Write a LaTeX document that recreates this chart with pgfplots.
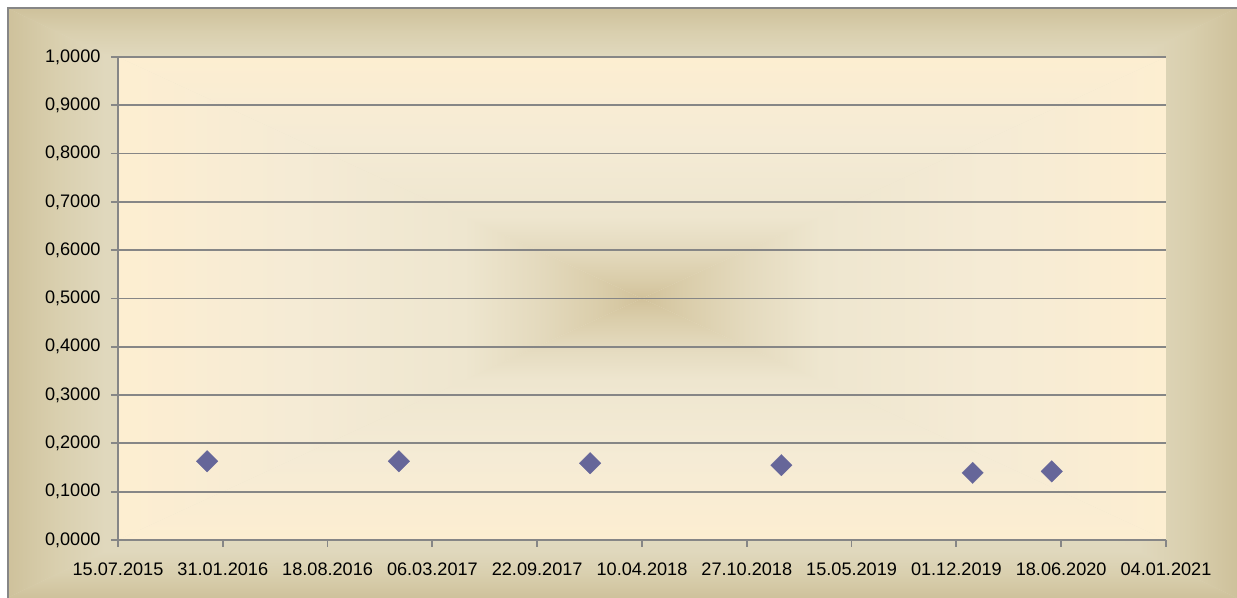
\documentclass[border=0pt]{standalone}
\usepackage{pgfplots}
\pgfplotsset{compat=1.18}
\usepackage{fontspec}
\setmainfont{Liberation Sans}
\definecolor{bgout}{RGB}{206,193,155}
\definecolor{bgmid}{RGB}{217,207,174}
\definecolor{bgin}{RGB}{224,216,189}
\definecolor{bglight}{RGB}{227,220,195}
\definecolor{cream}{RGB}{253,238,209}
\definecolor{creamb}{RGB}{245,235,213}
\definecolor{c12}{RGB}{238,230,207}
\definecolor{c7}{RGB}{228,218,190}
\definecolor{c3}{RGB}{218,205,170}
\definecolor{darkc}{RGB}{210,194,155}
\definecolor{gridc}{RGB}{134,134,134}
\definecolor{markc}{RGB}{102,102,153}
% outer background: edge at low / high end
\pgfdeclarehorizontalshading{oHlo}{100bp}{color(0bp)=(bgout); color(25bp)=(bgout); color(29bp)=(bgmid); color(33bp)=(bgin); color(42bp)=(bglight); color(100bp)=(bglight)}
\pgfdeclarehorizontalshading{oHhi}{100bp}{color(0bp)=(bglight); color(58bp)=(bglight); color(67bp)=(bgin); color(71bp)=(bgmid); color(75bp)=(bgout); color(100bp)=(bgout)}
\pgfdeclareverticalshading{oVlo}{100bp}{color(0bp)=(bgout); color(25bp)=(bgout); color(29bp)=(bgmid); color(33bp)=(bgin); color(42bp)=(bglight); color(100bp)=(bglight)}
\pgfdeclareverticalshading{oVhi}{100bp}{color(0bp)=(bglight); color(58bp)=(bglight); color(67bp)=(bgin); color(71bp)=(bgmid); color(75bp)=(bgout); color(100bp)=(bgout)}
% plot area
\pgfdeclarehorizontalshading{pHlo}{100bp}{color(0bp)=(cream); color(25bp)=(cream); color(42bp)=(creamb); color(58bp)=(c12); color(65bp)=(c7); color(71bp)=(c3); color(75bp)=(darkc); color(100bp)=(darkc)}
\pgfdeclarehorizontalshading{pHhi}{100bp}{color(0bp)=(darkc); color(25bp)=(darkc); color(29bp)=(c3); color(35bp)=(c7); color(42bp)=(c12); color(58bp)=(creamb); color(75bp)=(cream); color(100bp)=(cream)}
\pgfdeclareverticalshading{pVlo}{100bp}{color(0bp)=(cream); color(25bp)=(cream); color(42bp)=(creamb); color(58bp)=(c12); color(65bp)=(c7); color(71bp)=(c3); color(75bp)=(darkc); color(100bp)=(darkc)}
\pgfdeclareverticalshading{pVhi}{100bp}{color(0bp)=(darkc); color(25bp)=(darkc); color(29bp)=(c3); color(35bp)=(c7); color(42bp)=(c12); color(58bp)=(creamb); color(75bp)=(cream); color(100bp)=(cream)}
% #1=x1 #2=y1 #3=x2 #4=y2 #5=cx #6=cy #7=prefix
\newcommand\rectshade[7]{%
  \shade[shading=#7Hlo] (#1bp,#2bp) -- (#1bp,#4bp) -- (#5bp,#6bp) -- cycle;
  \shade[shading=#7Hhi] (#3bp,#2bp) -- (#3bp,#4bp) -- (#5bp,#6bp) -- cycle;
  \shade[shading=#7Vlo] (#1bp,#2bp) -- (#3bp,#2bp) -- (#5bp,#6bp) -- cycle;
  \shade[shading=#7Vhi] (#1bp,#4bp) -- (#3bp,#4bp) -- (#5bp,#6bp) -- cycle;
}
\begin{document}
\begin{tikzpicture}
\useasboundingbox (0,0) rectangle (1237bp,598bp);
\fill[white] (0,0) rectangle (1237bp,598bp);
\begin{scope}
\clip (0,0) rectangle (1237bp,598bp);
\fill[bgin] (7bp,0bp) rectangle (1237bp,590bp);
\rectshade{7}{0}{1237}{590}{622}{295}{o}
\fill[c12] (118bp,58bp) rectangle (1166bp,541bp);
\rectshade{118}{58}{1166}{541}{642}{299.5}{p}
\draw[gridc, line width=2bp] (7.5bp,-5bp) -- (7.5bp,590bp) -- (1245bp,590bp);
\end{scope}
\begin{axis}[
  at={(118bp,58bp)}, anchor=south west,
  scale only axis, width=1048bp, height=483bp,
  xmin=0, xmax=2000, ymin=0, ymax=1,
  axis lines*=left,
  axis line style={gridc, line width=1.8bp},
  xtick={0,200,...,2000},
  xticklabels={15.07.2015,31.01.2016,18.08.2016,06.03.2017,22.09.2017,10.04.2018,27.10.2018,15.05.2019,01.12.2019,18.06.2020,04.01.2021},
  ytick={0,0.1,...,1.0},
  ymajorgrids,
  major grid style={gridc, line width=1.8bp},
  tick align=outside,
  major tick length=7bp,
  tick style={gridc, line width=1.8bp},
  tick label style={font=\fontsize{18.2}{21}\selectfont, text=black},
  xticklabel style={yshift=-12bp},
  yticklabel style={xshift=-7bp, /pgf/number format/.cd, fixed, fixed zerofill, precision=4, use comma, assume math mode=true},
  clip=false,
]
\addplot[only marks, mark=square*, mark size=7.6bp, mark options={rotate=45, fill=markc, draw=markc, line width=0.3bp}]
coordinates {(170,0.163) (536,0.163) (901,0.159) (1266,0.155) (1631,0.139) (1782,0.142)};
\end{axis}
\end{tikzpicture}
\end{document}
